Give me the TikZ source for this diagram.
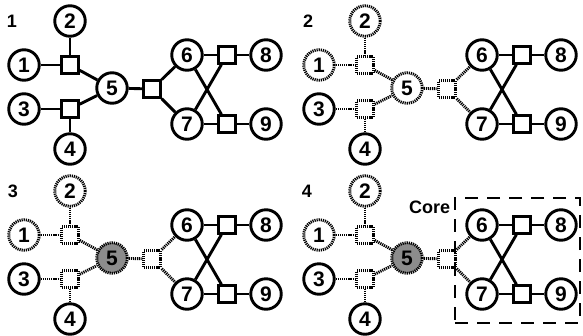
\documentclass[tikz,border=0pt]{standalone}
\usepackage{fontspec}
\setmainfont{Liberation Sans}
\usepackage{xcolor}
\usepackage{tikz}
\usetikzlibrary{positioning}
\definecolor{hubgray}{RGB}{140,140,140}
\newcommand{\factorgraph}[1]{%
  \node[var,faded] (#1v1) at ( 24, 65) {1};
  \node[var,faded] (#1v2) at ( 70, 21) {2};
  \node[var]       (#1v3) at ( 24,109) {3};
  \node[var]       (#1v4) at ( 70,149) {4};
  \node[var,hub]   (#1v5) at (112, 88) {5};
  \node[var]       (#1v6) at (187, 55) {6};
  \node[var]       (#1v7) at (187,124) {7};
  \node[var]       (#1v8) at (266, 55) {8};
  \node[var]       (#1v9) at (266,124) {9};
  \node[fac,faded] (#1fa) at ( 70, 65) {};
  \node[fac,faded] (#1fb) at ( 70,109) {};
  \node[fac,faded] (#1fc) at (152, 89) {};
  \node[fac]       (#1fd) at (227, 55) {};
  \node[fac]       (#1fe) at (227,124) {};
  % edges that may be cut
  \draw[link,faded] (#1v1) -- (#1fa);
  \draw[link,faded] (#1v2) -- (#1fa);
  \draw[link,faded] (#1fa) -- (#1v5);
  \draw[link,faded] (#1v3) -- (#1fb);
  \draw[link,faded] (#1v4) -- (#1fb);
  \draw[link,faded] (#1fb) -- (#1v5);
  \draw[link,faded] (#1v5) -- (#1fc);
  \draw[link,faded] (#1fc) -- (#1v6);
  \draw[link,faded] (#1fc) -- (#1v7);
  % edges that stay
  \draw[link] (#1v6) -- (#1fd);
  \draw[link] (#1fd) -- (#1v8);
  \draw[link] (#1v7) -- (#1fe);
  \draw[link] (#1fe) -- (#1v9);
  \draw[link] (#1v6) -- (#1fe);
  \draw[link] (#1v7) -- (#1fd);
}

\begin{document}
\begin{tikzpicture}[
  x=1pt, y=-1pt,
  var/.style  ={circle,draw,line width=2.9pt,minimum size=30.5pt,inner sep=0pt,
                font=\fontsize{21}{21}\selectfont\bfseries},
  fac/.style  ={rectangle,draw,line width=2.9pt,minimum size=16.5pt,inner sep=0pt},
  link/.style ={line width=2.9pt},
  dotline/.style={dash pattern=on 1.2pt off 0.9pt},
  lbl/.style  ={inner sep=0pt,font=\fontsize{18}{18}\selectfont\bfseries},
  corebox/.style={draw,line width=1.3pt,dash pattern=on 13pt off 9pt,
                minimum width=125pt,minimum height=125pt,inner sep=0pt},
  faded/.style={},
  hub/.style={},
]
\useasboundingbox (0,0) rectangle (583,335);

\begin{scope}
  \factorgraph{p1}
  \node[lbl] (l1) at (12,21) {1};
\end{scope}

\begin{scope}[shift={(295,0)}, faded/.style={dotline}, hub/.style={dotline}]
  \factorgraph{p2}
  \node[lbl] (l2) at (13,21) {2};
\end{scope}

\begin{scope}[shift={(0,170)}, faded/.style={dotline},
              hub/.style={dotline,fill=hubgray}]
  \factorgraph{p3}
  \node[lbl] (l3) at (13,21) {3};
\end{scope}

\begin{scope}[shift={(295,170)}, faded/.style={dotline},
              hub/.style={dotline,fill=hubgray}]
  \factorgraph{p4}
  \node[lbl] (l4) at (12,21) {4};
\end{scope}

% core region
\node[corebox] (core) at (517.5,260.5) {};
\node[lbl,below left=3pt and 4pt of core.north west] (corelbl) {Core};
\end{tikzpicture}
\end{document}
